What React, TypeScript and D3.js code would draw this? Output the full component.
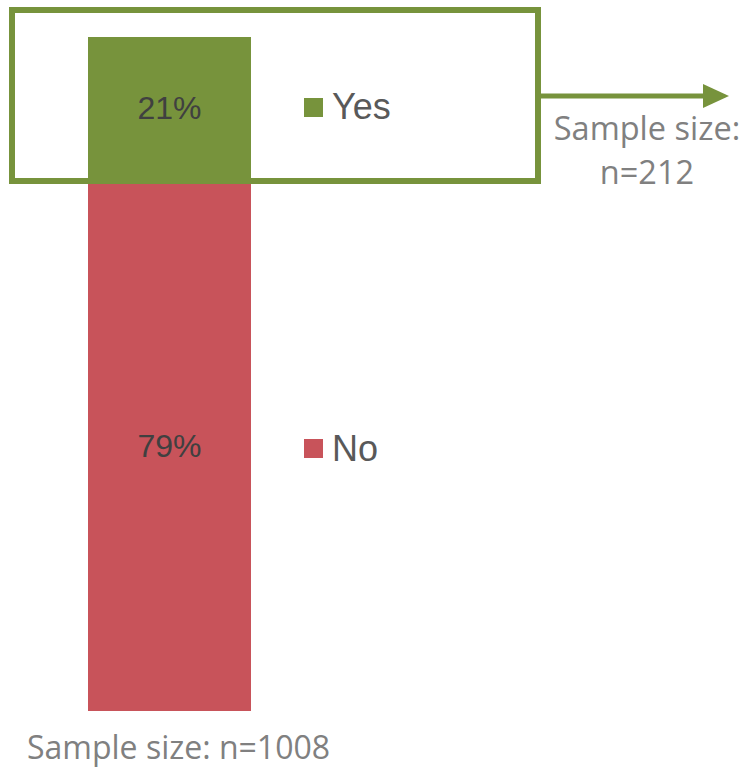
import React from "react";
import * as d3 from "d3";

const categories = ["Yes", "No"];
const values = [21, 79];
const valueLabels = ["21%", "79%"];
const colors = ["#77933C", "#C8535A"];
const sampleMain = "Sample size: n=1008";
const sampleSubLines = ["Sample size:", "n=212"];

export default function App() {
  const W = 741, H = 768;
  const y = d3.scaleLinear().domain([0, 100]).range([37, 711]);
  const x = d3.scaleBand().domain(["all"]).range([88, 251]).padding(0);
  let acc = 0;
  const segs = values.map((v, i) => {
    const s = { cat: categories[i], y0: acc, y1: acc + v, v, label: valueLabels[i], color: colors[i] };
    acc += v;
    return s;
  });
  const bw = x.bandwidth();
  const x0 = x("all") as number;
  const frameStroke = "#77933C";
  const labelBase = [119, 457];
  const legendBase = [119, 461];
  const legendSq = [98, 439];
  return (
    <svg width={W} height={H} style={{ position: "absolute", left: 0, top: 0 }}>
      <rect width={W} height={H} fill="#fff" />
      {segs.map((s, i) => (
        <g key={s.cat}>
          <rect x={x0} y={y(s.y0)} width={bw} height={y(s.y1) - y(s.y0)} fill={s.color} />
          <text
            x={x0 + bw / 2}
            y={labelBase[i]}
            textAnchor="middle"
            fontFamily="Liberation Sans, Arial, sans-serif"
            fontSize={32}
            fill="#404040"
          >
            {s.label}
          </text>
        </g>
      ))}
      {segs.map((s, i) => (
        <g key={"lg" + s.cat}>
          <rect x={304} y={legendSq[i]} width={19} height={19} fill={s.color} />
          <text
            x={332}
            y={legendBase[i]}
            fontFamily="Liberation Sans, Arial, sans-serif"
            fontSize={36}
            fill="#595959"
          >
            {s.cat}
          </text>
        </g>
      ))}
      <rect x={12} y={10} width={526} height={171} fill="none" stroke={frameStroke} strokeWidth={6} />
      <line x1={541} y1={96} x2={706} y2={96} stroke={frameStroke} strokeWidth={5} />
      <path d="M703,84 L729,96 L703,108 Z" fill={frameStroke} />
      {sampleSubLines.map((t, i) => (
        <text
          key={t}
          x={647}
          y={140 + i * 44}
          textAnchor="middle"
          fontFamily="Open Sans, sans-serif"
          fontSize={32.5}
          fill="#808080"
        >
          {t}
        </text>
      ))}
      <text x={27} y={759} fontFamily="Open Sans, sans-serif" fontSize={32} fill="#808080">
        {sampleMain}
      </text>
    </svg>
  );
}
